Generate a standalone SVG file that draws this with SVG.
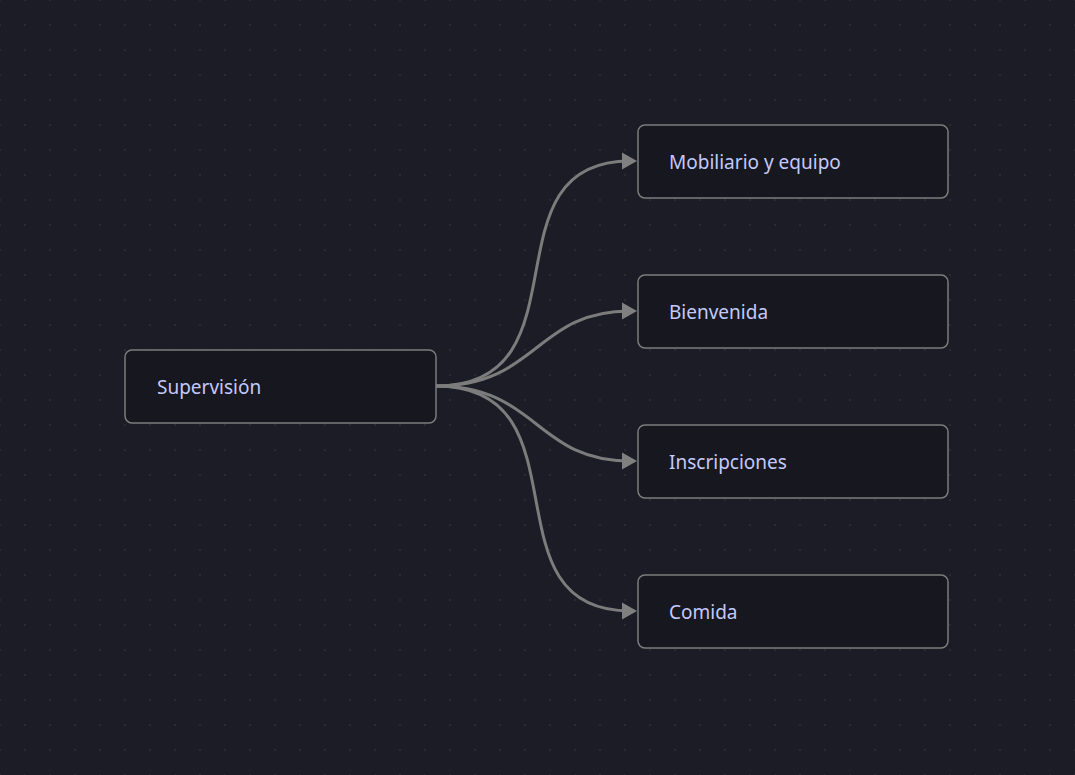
<svg xmlns="http://www.w3.org/2000/svg" width="1075" height="775" viewBox="0 0 1075 775">
<defs>
<pattern id="dots" x="0" y="0" width="25" height="25" patternUnits="userSpaceOnUse">
<rect x="-0.75" y="-0.75" width="1.5" height="1.5" fill="#34353f"/>
<rect x="24.25" y="-0.75" width="1.5" height="1.5" fill="#34353f"/>
<rect x="-0.75" y="24.25" width="1.5" height="1.5" fill="#34353f"/>
<rect x="24.25" y="24.25" width="1.5" height="1.5" fill="#34353f"/>
</pattern>
<marker id="arrow" markerWidth="15" markerHeight="18" refX="8" refY="9" orient="auto" markerUnits="userSpaceOnUse">
<path d="M0,0.5 L15,9 L0,17.5 Z" fill="#808080"/>
</marker>
<style>
.node rect{fill:#17171f;stroke:#7c7c7c;stroke-width:1.5}
.node text{font-family:"Noto Sans","Open Sans","Liberation Sans",sans-serif;font-size:19px;fill:#c3c9fb}
.edge{fill:none;stroke:#7c7c7c;stroke-width:3;marker-end:url(#arrow)}
</style>
</defs>
<rect width="1075" height="775" fill="#1c1c27"/>
<rect width="1075" height="775" fill="url(#dots)"/>
<g id="connectors">
<path class="edge" d="M436,386 C592,386 481,161 630,161"/>
<path class="edge" d="M436,386 C538,386 535,311 630,311"/>
<path class="edge" d="M436,386 C538,386 535,461 630,461"/>
<path class="edge" d="M436,386 C592,386 481,611 630,611"/>
</g>
<g id="supervision" class="node">
<rect x="125" y="350" width="311" height="73" rx="7"/>
<text x="157" y="393.5">Supervisión</text>
</g>
<g id="mobiliario" class="node">
<rect x="638" y="125" width="310" height="73" rx="7"/>
<text x="669" y="168.5">Mobiliario y equipo</text>
</g>
<g id="bienvenida" class="node">
<rect x="638" y="275" width="310" height="73" rx="7"/>
<text x="669" y="318.5">Bienvenida</text>
</g>
<g id="inscripciones" class="node">
<rect x="638" y="425" width="310" height="73" rx="7"/>
<text x="669" y="468.5">Inscripciones</text>
</g>
<g id="comida" class="node">
<rect x="638" y="575" width="310" height="73" rx="7"/>
<text x="669" y="618.5">Comida</text>
</g>
</svg>
